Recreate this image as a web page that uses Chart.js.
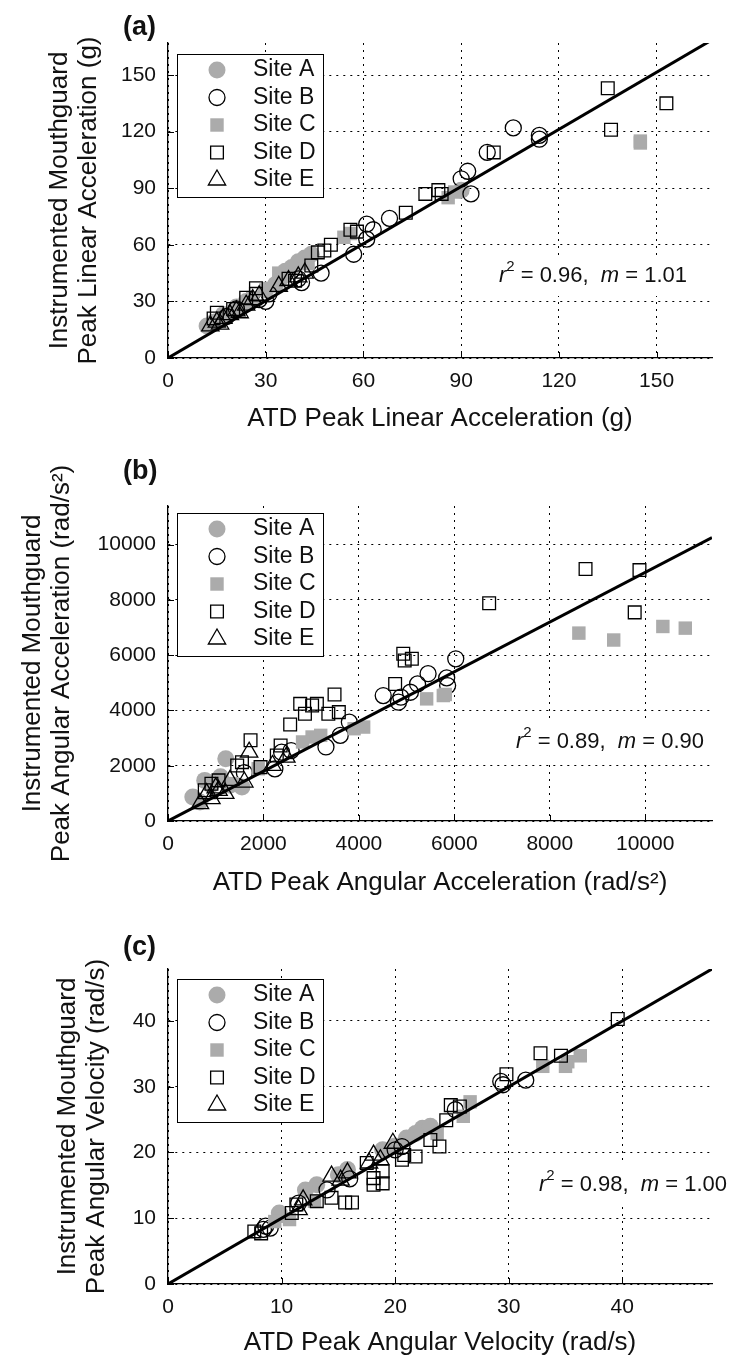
<!DOCTYPE html>
<html lang="en">
<head>
<meta charset="UTF-8">
<title>Instrumented Mouthguard vs ATD</title>
<script src="https://cdn.jsdelivr.net/npm/chart.js"></script>
<style>
  body {
    margin: 0;
    background: #fff;
    width: 729px;
    height: 1357px;
    overflow: hidden;
    position: relative;
  }
  canvas { position: absolute; left: 0; }
</style>
</head>
<body>
<canvas id="chartA" width="729" height="445" style="top:0px"></canvas>
<canvas id="chartB" width="729" height="463" style="top:445px"></canvas>
<canvas id="chartC" width="729" height="449" style="top:908px"></canvas>

<script>
const siteNames = ['Site A', 'Site B', 'Site C', 'Site D', 'Site E'];

// (a) peak linear acceleration (g) -> [ATD, mouthguard]
const linA = [[12,17],[14,19],[17,23],[21,27],[24,30],[30,36],[33,39],[35,43],[36,46],[38,48],[40,51],[42,53],[44,55],[90,89]];
const linB = [[106,122],[114,118],[114,116],[98,109],[92,99],[90,95],[93,87],[68,74],[61,71],[63,68],[61,63],[57,55],[47,45],[41,40],[40,42],[30,30],[31,34],[28,31],[21,26],[18,22]];
const linC = [[145,114],[145,115],[86,85],[88,88],[54,64],[56,66],[43,50],[34,45],[30,36],[26,32],[16,20]];
const linD = [[135,143],[153,135],[136,121],[100,109],[83,89],[79,87],[84,87],[73,77],[58,67],[56,68],[50,60],[48,57],[46,56],[44,49],[37,42],[39,41],[27,37],[27,34],[24,32],[15,24],[14,21],[20,26]];
const linE = [[13,17],[15,19],[17,21],[19,23],[21,25],[24,28],[26,31],[28,33],[34,38],[37,41],[40,43],[42,45],[16,18],[22,24]];
const linTicks = [0, 30, 60, 90, 120, 150];
const linMax = 167;

// (b) peak angular acceleration (rad/s^2)
const angA = [[520,870],[770,1470],[670,690],[1210,2250],[1300,1290],[1550,1230],[1100,1600],[900,1300]];
const angB = [[6030,5870],[5450,5330],[5840,5180],[5860,4900],[5230,4960],[5080,4660],[4510,4540],[4830,4300],[4880,4480],[3800,3580],[3610,3100],[3310,2680],[2380,2490],[2240,1890],[2580,2550],[1600,1750]];
const angC = [[8610,6800],[9340,6550],[10370,7040],[10840,6980],[5420,4420],[5770,4540],[5810,4580],[4100,3400],[3900,3340],[3020,3040],[2820,2860],[1890,1890],[1350,1350],[3200,3100]];
const angD = [[8750,9120],[9880,9080],[6730,7880],[9780,7550],[4930,6050],[4960,5810],[5110,5870],[4760,4960],[3490,4580],[2770,4240],[3020,4180],[3120,4240],[2870,3880],[3360,3880],[3580,3940],[2560,3490],[1730,2920],[2360,2730],[1550,2130],[1450,2010],[910,1350],[1060,1470],[770,1110],[2280,2370],[1940,1950]];
const angE = [[1700,2490],[810,990],[910,810],[1060,1110],[1300,1470],[1600,1410],[2480,2310],[2190,2010],[670,630],[1200,1000],[1000,1200]];
const angTicks = [0, 2000, 4000, 6000, 8000, 10000];
const angMax = 11400;

// (c) peak angular velocity (rad/s)
const velA = [[22.4,23.7],[23.1,24],[21.8,22.9],[21,22.2],[18.9,20.4],[15.8,17.4],[15,16.6],[13.1,15.1],[12.1,14.3],[9.8,10.8],[20,21]];
const velB = [[31.5,31],[29.3,30.8],[29.5,30.3],[25.3,26.5],[20.6,20.9],[20,20.4],[14,14.3],[11.5,12.3],[8.6,8.8],[8.4,8.3],[9,8.5],[16,16]];
const velC = [[35.2,33.8],[36.3,34.7],[33,33.1],[35,33.1],[26.6,27.7],[26,25.5],[23.7,22.9],[12.9,12.6],[9.8,10.3],[10.7,9.8],[9.4,9.5]];
const velD = [[39.6,40.3],[32.8,35.1],[34.6,34.7],[29.8,31.9],[24.9,27.2],[25.7,27],[24.5,24.9],[23.1,21.9],[23.9,20.9],[21.8,19.4],[20.6,18.9],[20.8,19.6],[18.9,17.1],[18.1,16.1],[18.9,15.3],[18.1,15.1],[15.6,12.4],[16.2,12.4],[14.4,13.1],[13.1,12.6],[10.9,10.8],[11.3,12.1],[7.6,8],[8.2,7.7],[17.5,18.4]];
const velE = [[14.4,16.4],[18.1,19.6],[18.7,18.9],[19.8,21.4],[15.8,16.9],[15.2,15.8],[11.9,12.8],[11.5,11.3],[17.7,18.4]];
const velTicks = [0, 10, 20, 30, 40];
const velMax = 47.9;

// regression through origin
const fitR2 = ['0.96', '0.89', '0.98'];
const fitM = ['1.01', '0.90', '1.00'];

const FONT = '"Liberation Sans", Arial, Helvetica, sans-serif';
const GRAY = '#ababab';
const INK = '#111';
const CLEAR = 'rgba(0,0,0,0)';

const siteStyles = [
  { shape: 'circle',   r: 8.5, fill: GRAY,  stroke: GRAY,   lw: 0 },
  { shape: 'circle',   r: 8,   fill: CLEAR, stroke: '#000', lw: 1.3 },
  { shape: 'rect',     r: 9.5, fill: GRAY,  stroke: GRAY,   lw: 0 },
  { shape: 'rect',     r: 9,   fill: CLEAR, stroke: '#000', lw: 1.3 },
  { shape: 'triangle', r: 10,  fill: CLEAR, stroke: '#000', lw: 1.3 }
];

const panels = [
  { id: 'chartA', tag: '(a)', sites: [linA, linB, linC, linD, linE], ticks: linTicks, max: linMax,
    xTitle: 'ATD Peak Linear Acceleration (g)',
    yTitle: ['Instrumented Mouthguard', 'Peak Linear Acceleration (g)'],
    h: 445, top: 43, bottom: 358, yTitlePad: 45, xTitlePad: 12, tagY: 28, legendDy: 11, noteX: 687, noteY: 276 },
  { id: 'chartB', tag: '(b)', sites: [angA, angB, angC, angD, angE], ticks: angTicks, max: angMax,
    xTitle: 'ATD Peak Angular Acceleration (rad/s²)',
    yTitle: ['Instrumented Mouthguard', 'Peak Angular Acceleration (rad/s²)'],
    h: 463, top: 61, bottom: 376, yTitlePad: 18, xTitlePad: 11, tagY: 27, legendDy: 7, noteX: 704, noteY: 297 },
  { id: 'chartC', tag: '(c)', sites: [velA, velB, velC, velD, velE], ticks: velTicks, max: velMax,
    xTitle: 'ATD Peak Angular Velocity (rad/s)',
    yTitle: ['Instrumented Mouthguard', 'Peak Angular Velocity (rad/s)'],
    h: 449, top: 61, bottom: 376, yTitlePad: 53, xTitlePad: 0, tagY: 40, legendDy: 10, noteX: 727, noteY: 277 }
];

function drawMarker(ctx, s, x, y) {
  ctx.beginPath();
  if (s.shape === 'circle') {
    ctx.arc(x, y, s.r, 0, Math.PI * 2);
  } else if (s.shape === 'rect') {
    const h = s.r * Math.SQRT1_2;
    ctx.rect(x - h, y - h, 2 * h, 2 * h);
  } else {
    ctx.moveTo(x, y - s.r);
    ctx.lineTo(x + 0.866 * s.r, y + 0.5 * s.r);
    ctx.lineTo(x - 0.866 * s.r, y + 0.5 * s.r);
  }
  ctx.closePath();
  if (s.fill !== CLEAR) { ctx.fillStyle = s.fill; ctx.fill(); }
  if (s.lw) { ctx.lineWidth = s.lw; ctx.strokeStyle = s.stroke; ctx.stroke(); }
}

function drawNote(ctx, xRight, yMid, r2, m) {
  const big = '22px ' + FONT;
  const parts = [
    { t: 'r', f: 'italic ' + big, dy: 0 },
    { t: '2', f: '15px ' + FONT, dy: -9 },
    { t: ' = ' + r2 + ',  ', f: big, dy: 0 },
    { t: 'm', f: 'italic ' + big, dy: 0 },
    { t: ' = ' + m, f: big, dy: 0 }
  ];
  let total = 0;
  parts.forEach(p => { ctx.font = p.f; p.w = ctx.measureText(p.t).width; total += p.w; });
  let x = xRight - total;
  ctx.fillStyle = '#fff';
  ctx.fillRect(x - 5, yMid - 20, total + 10, 40);
  ctx.fillStyle = INK;
  ctx.textBaseline = 'middle';
  ctx.textAlign = 'left';
  parts.forEach(p => { ctx.font = p.f; ctx.fillText(p.t, x, yMid + p.dy); x += p.w; });
}

function makePanel(p, idx) {
  const slope = parseFloat(fitM[idx]);
  const datasets = [{
    data: [{ x: 0, y: 0 }, { x: p.max, y: slope * p.max }],
    showLine: true, borderColor: '#000', borderWidth: 3, pointRadius: 0, order: 0
  }];
  p.sites.forEach((pts, i) => {
    const s = siteStyles[i];
    datasets.push({
      label: siteNames[i],
      data: pts.map(([x, y]) => ({ x, y })),
      pointStyle: s.shape, pointRadius: s.r,
      backgroundColor: s.fill, borderColor: s.stroke, borderWidth: s.lw,
      order: 5 - i
    });
  });

  const decor = {
    id: 'decor' + idx,
    beforeDatasetsDraw(chart) {
      drawNote(chart.ctx, p.noteX, p.noteY, fitR2[idx], fitM[idx]);
    },
    afterDraw(chart) {
      const ctx = chart.ctx, a = chart.chartArea;
      const xs = chart.scales.x, ys = chart.scales.y;
      ctx.save();
      // inward tick marks
      ctx.strokeStyle = '#000';
      ctx.lineWidth = 1;
      ctx.beginPath();
      xs.ticks.forEach(t => {
        const px = Math.round(xs.getPixelForValue(t.value)) + 0.5;
        ctx.moveTo(px, a.bottom); ctx.lineTo(px, a.bottom - 6);
      });
      ys.ticks.forEach(t => {
        const py = Math.round(ys.getPixelForValue(t.value)) + 0.5;
        ctx.moveTo(a.left, py); ctx.lineTo(a.left + 6, py);
      });
      ctx.stroke();

      // legend box inside the axes
      const bx = a.left + 9, by = a.top + p.legendDy, bw = 146, bh = 143;
      ctx.fillStyle = '#fff';
      ctx.fillRect(bx, by, bw, bh);
      ctx.strokeStyle = '#000';
      ctx.lineWidth = 1;
      ctx.strokeRect(bx + 0.5, by + 0.5, bw, bh);
      ctx.textBaseline = 'middle';
      ctx.textAlign = 'left';
      siteNames.forEach((name, i) => {
        const cy = by + 16 + i * 27.5;
        drawMarker(ctx, siteStyles[i], bx + 40, cy);
        ctx.fillStyle = INK;
        ctx.font = '23px ' + FONT;
        ctx.fillText(name, bx + 76, cy);
      });

      // panel tag
      ctx.font = 'bold 27px ' + FONT;
      ctx.fillStyle = INK;
      ctx.fillText(p.tag, 123, p.tagY);
      ctx.restore();
    }
  };

  const axis = (isX) => ({
    type: 'linear',
    min: 0,
    max: p.max,
    afterBuildTicks: s => { s.ticks = p.ticks.map(v => ({ value: v })); },
    afterFit: isX ? (s => { s.height = p.h - p.bottom; }) : (s => { s.width = 168; }),
    grid: { color: '#000', lineWidth: 1, drawTicks: false },
    border: { display: true, color: '#000', width: 1.3, dash: [2, 5] },
    ticks: {
      font: { family: FONT, size: 21 }, color: INK,
      padding: isX ? 11 : 12, autoSkip: false, maxRotation: 0,
      callback: v => String(v)
    },
    title: {
      display: true,
      text: isX ? p.xTitle : p.yTitle,
      font: { family: FONT, size: 26, lineHeight: 1.12 },
      color: INK,
      padding: isX ? { top: 0, bottom: p.xTitlePad } : { top: p.yTitlePad, bottom: 0 }
    }
  });

  new Chart(document.getElementById(p.id), {
    type: 'scatter',
    data: { datasets },
    options: {
      responsive: false,
      animation: false,
      events: [],
      layout: { padding: { left: 0, right: 17, top: p.top, bottom: 0 } },
      plugins: { legend: { display: false }, tooltip: { enabled: false } },
      scales: { x: axis(true), y: axis(false) }
    },
    plugins: [decor]
  });
}

panels.forEach(makePanel);
</script>
</body>
</html>
